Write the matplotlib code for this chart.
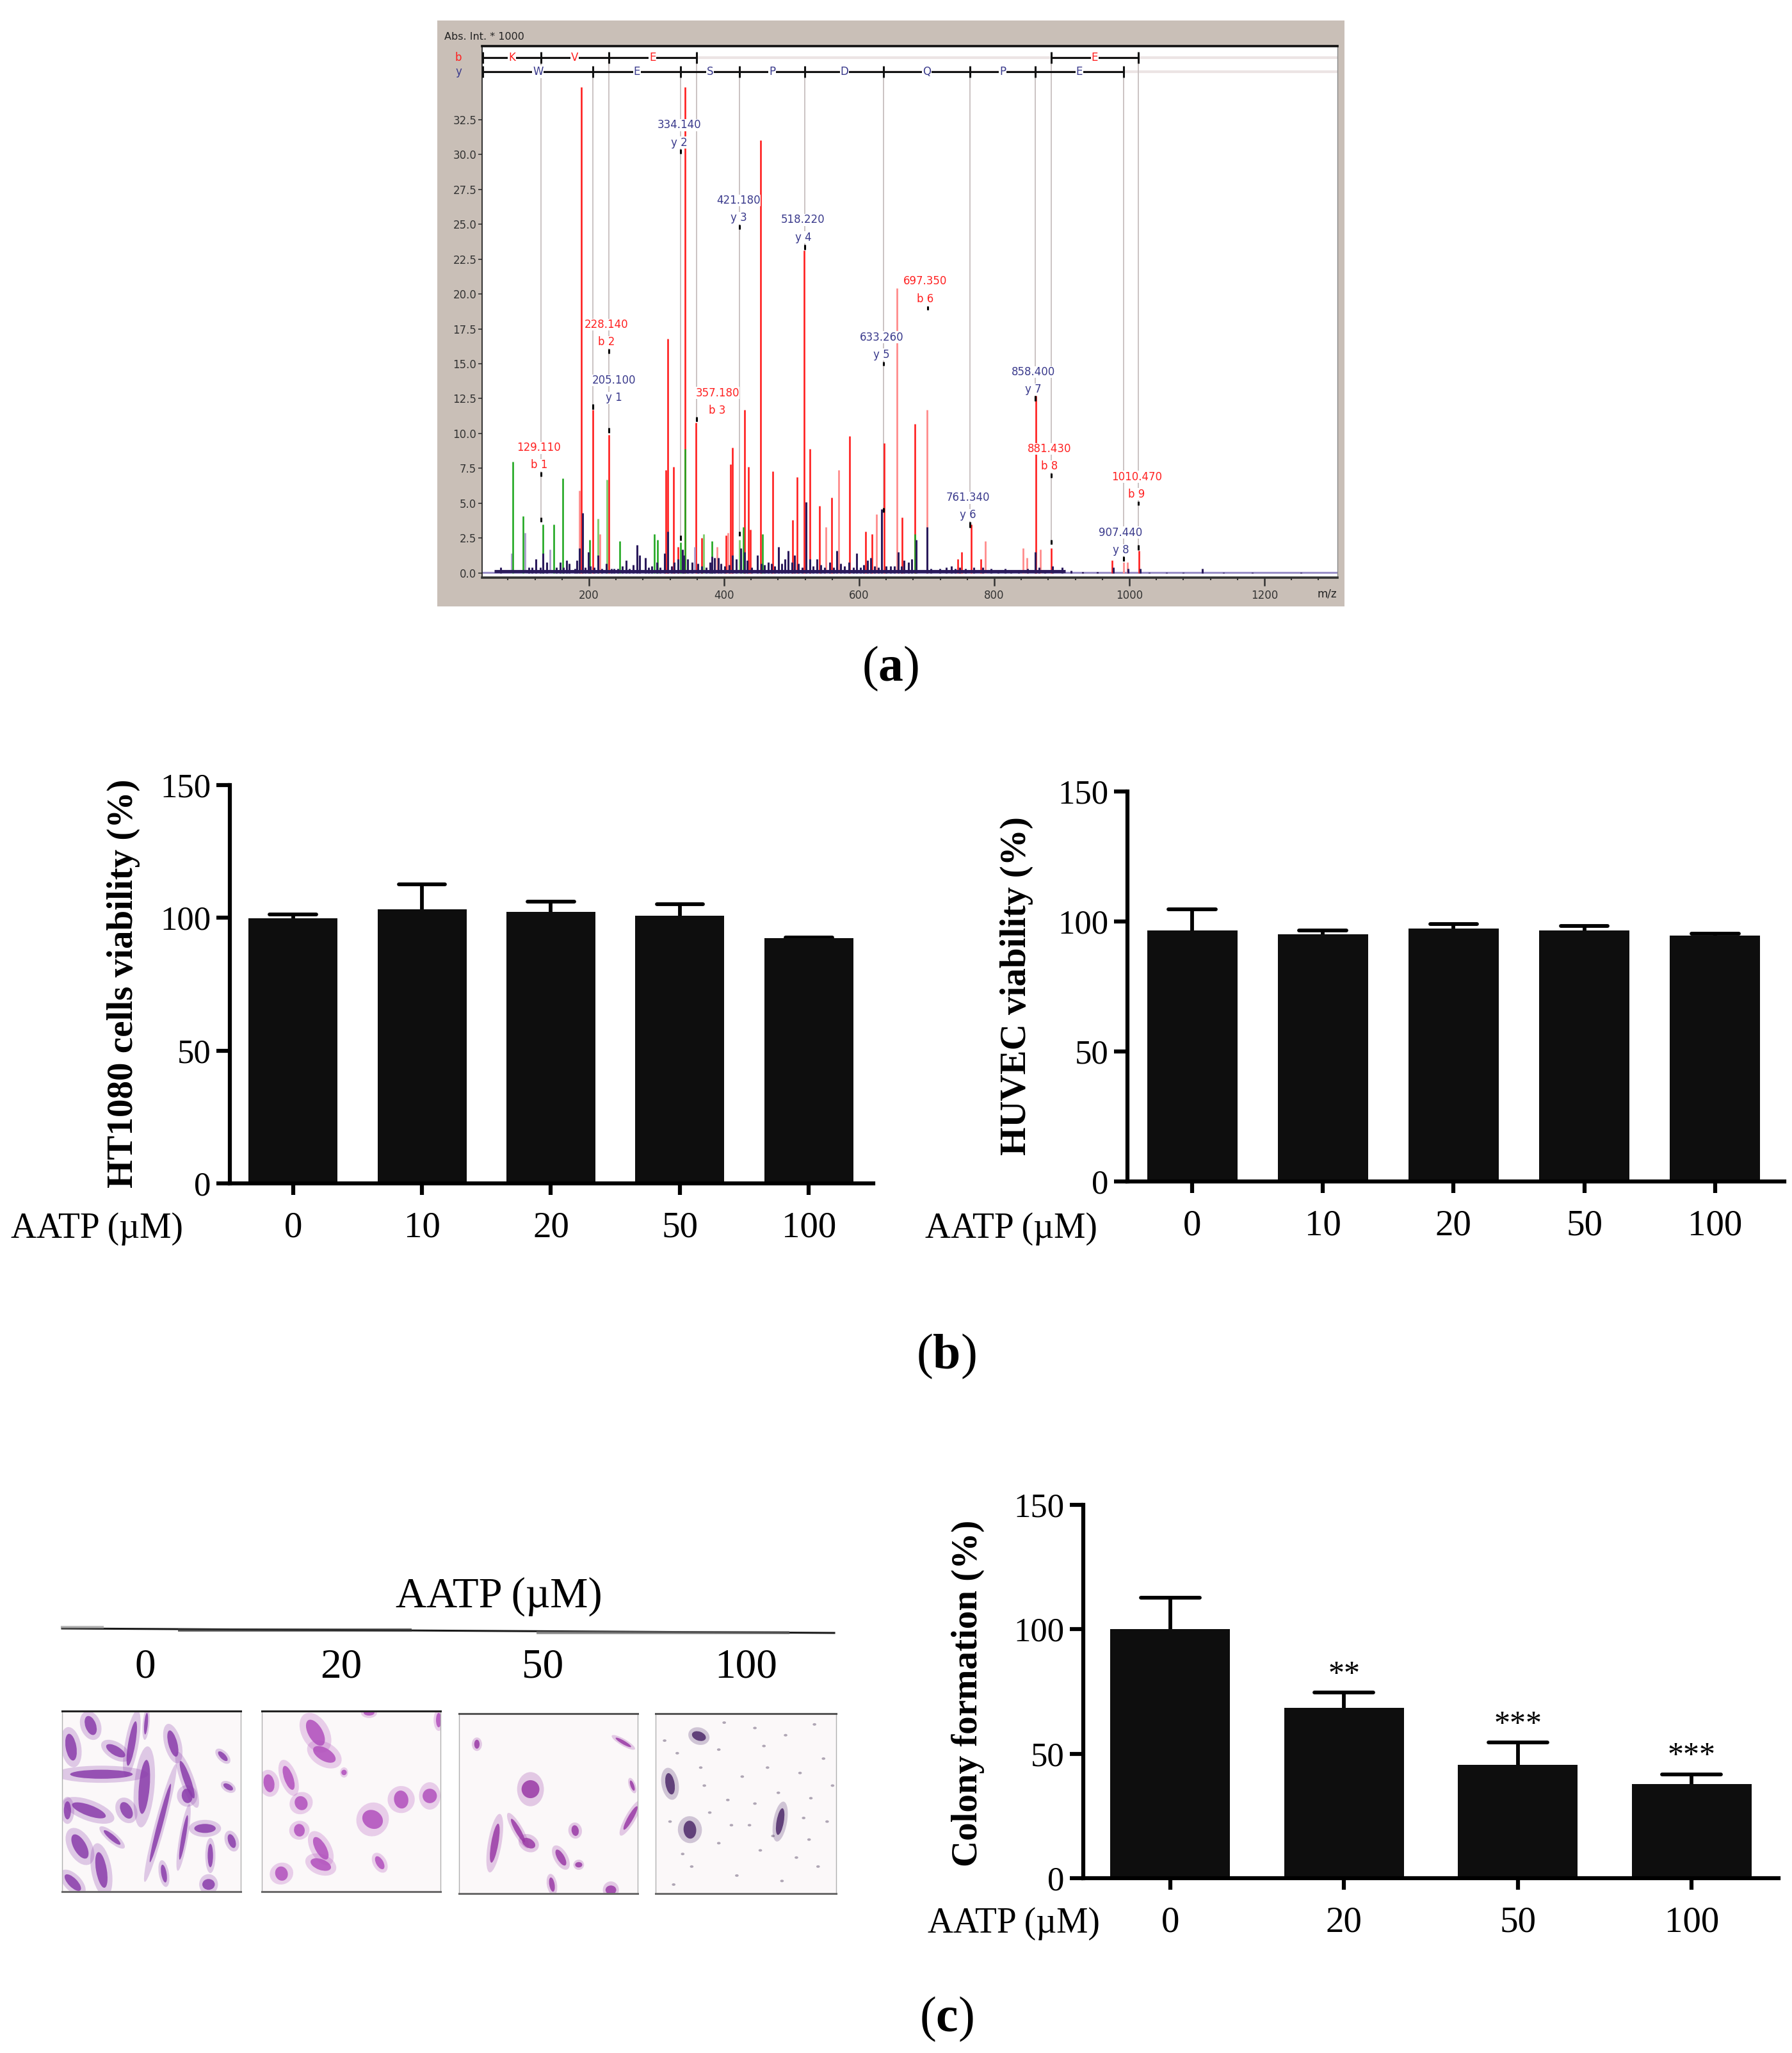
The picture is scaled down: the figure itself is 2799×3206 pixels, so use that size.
import numpy as np
import matplotlib
matplotlib.use('Agg')
import matplotlib.pyplot as plt
from matplotlib.patches import Ellipse, Rectangle
from matplotlib.ticker import MultipleLocator

W, H = 2799, 3206

# ---------------- panel (a): MS/MS spectrum ----------------
RED_MZ = [189, 206, 229.5, 314, 317, 325.3, 331.5, 342, 358, 366.4,
          402.6, 409.6, 412.5, 430, 436, 439, 454, 472, 501, 508,
          518.5, 527, 541, 559.6, 585.5, 609, 619, 637, 663.5, 682,
          746, 752, 766, 780, 862, 884, 974, 1014]
RED_INT = [34.8, 11.7, 9.9, 7.4, 16.8, 7.6, 1.9, 34.8, 10.8, 2.5,
           2.7, 7.8, 9.0, 11.7, 7.6, 3.1, 31.0, 7.3, 3.8, 6.9,
           23.1, 8.9, 4.8, 5.4, 9.8, 3.0, 2.8, 9.3, 4.0, 10.7,
           1.0, 1.5, 3.5, 1.0, 12.7, 1.8, 0.9, 1.6]
PINK_MZ = [185.6, 216.4, 390, 405.5, 550.5, 570, 626, 656, 700.5, 787,
           843, 848, 868, 991, 997.5]
PINK_INT = [5.9, 2.8, 1.9, 2.9, 3.3, 7.4, 4.2, 20.4, 11.7, 2.3,
            1.8, 1.1, 1.7, 0.8, 0.8]
GREEN_MZ = [87, 102.6, 131.3, 147.4, 161, 201, 245, 296.5, 301.5, 335.6,
            342, 382, 428, 457, 682]
GREEN_INT = [8.0, 4.1, 3.5, 3.5, 6.8, 2.4, 2.3, 2.8, 2.4, 2.2,
             8.9, 2.3, 3.3, 2.8, 2.8]
LGREEN_MZ = [213, 226.7, 370, 423]
LGREEN_INT = [3.9, 6.7, 2.8, 2.4]
LAV_MZ = [85, 105.5, 142, 356]
LAV_INT = [1.4, 2.9, 1.7, 1.9]
NAVY_MZ = [69, 111, 116, 121, 128, 132, 137, 152, 157, 162,
           167, 171, 179.4, 182, 185.6, 190.5, 194, 199, 202, 207.4,
           213.5, 219, 226, 233, 237, 242.3, 249, 255, 259.6, 265.3,
           271.5, 274.4, 283.4, 288.3, 292.4, 300, 305, 312, 317, 322,
           326, 331.5, 338, 340.5, 346, 353, 361.5, 367, 373, 379,
           382, 386, 391, 395, 401, 407.5, 412.5, 418, 425, 430,
           434, 441, 449, 455, 460, 465, 470, 475.3, 481, 485.6,
           490, 495, 500, 504, 510, 516, 521.4, 527, 532, 537,
           543, 549, 556, 562, 567, 572, 578, 585, 591, 596.6,
           601.5, 607, 612, 617, 623, 628.6, 633.6, 640, 646, 652,
           657.4, 662.3, 666.5, 673, 678, 684, 700.5, 706, 719, 729,
           736, 742, 748.5, 757, 770, 782.5, 795, 806, 816.5, 825,
           835.6, 849.6, 861, 866.6, 875, 886.6, 900.6, 914, 931, 952.5,
           976, 998, 1016, 1029, 1054.5, 1080, 1107.6, 1139.5, 1182, 1254]
NAVY_INT = [0.4, 0.4, 0.4, 1.0, 0.4, 1.4, 0.8, 0.4, 0.8, 0.4,
            0.9, 0.7, 0.3, 0.9, 1.8, 4.3, 0.4, 1.5, 0.5, 0.4,
            1.3, 0.3, 0.7, 0.3, 0.3, 0.3, 0.5, 0.9, 0.3, 0.6,
            2.0, 1.3, 1.1, 0.4, 0.5, 0.8, 0.4, 1.4, 3.0, 0.5,
            0.8, 1.0, 1.7, 1.3, 1.0, 0.8, 0.7, 0.5, 0.4, 0.8,
            1.2, 1.1, 1.1, 0.7, 0.5, 0.6, 1.3, 1.0, 1.8, 1.5,
            0.9, 0.4, 1.3, 0.7, 0.6, 0.8, 0.7, 0.5, 1.9, 0.7,
            1.0, 1.6, 0.8, 1.3, 0.7, 0.4, 5.1, 1.0, 0.5, 1.0,
            0.6, 0.4, 0.8, 0.4, 1.6, 0.7, 0.5, 0.8, 0.4, 1.4,
            0.4, 0.6, 0.9, 1.1, 0.5, 0.4, 4.6, 0.5, 0.5, 0.5,
            1.5, 0.5, 0.9, 0.8, 1.0, 2.4, 3.3, 0.3, 0.3, 0.4,
            0.5, 0.3, 0.4, 0.3, 0.4, 0.4, 0.3, 0.2, 0.3, 0.2,
            0.2, 0.3, 1.5, 0.4, 0.2, 0.5, 0.4, 0.2, 0.1, 0.1,
            0.4, 0.3, 0.3, 0.05, 0.05, 0.05, 0.3, 0.05, 0.05, 0.05]

# annotation lines (fragment positions)
ANN_LINE_MZ = [129, 206, 229, 335.4, 359.5, 423, 519.5, 636.4, 763.7, 861, 884, 991, 1013]
ANN_LINE_ROW = ['b', 'y', 'b', 'y', 'b', 'y', 'y', 'y', 'y', 'y', 'b', 'y', 'b']
ANN_LINE_END = [3.8, 11.9, 10.2, 2.5, 11.0, 2.8, 23.3, 4.5, 3.4, 12.5, 2.2, 1.0, 1.8]

LBL_MASS = ['129.110', '228.140', '205.100', '334.140', '357.180', '421.180', '518.220',
            '633.260', '697.350', '761.340', '858.400', '881.430', '907.440', '1010.470']
LBL_ION = ['b 1', 'b 2', 'y 1', 'y 2', 'b 3', 'y 3', 'y 4',
           'y 5', 'b 6', 'y 6', 'y 7', 'b 8', 'y 8', 'b 9']
LBL_X = [126, 226, 237, 333.7, 390, 421.4, 517, 633, 697.5, 761, 858, 881.5, 987, 1010.5]
LBL_Y = [8.98, 17.8, 13.8, 32.1, 12.9, 26.7, 25.3, 16.9, 20.9, 5.4, 14.4, 8.9, 2.9, 6.9]
LBL_TICK_MZ = [129, 229, 206, 335.4, 359.5, 423, 519.5, 636.4, 701, 763.7, 861, 884, 991, 1013]

B_BOUNDS = [[43, 129, 229, 359.5], [884, 1013]]
B_LETTERS = [['K', 'V', 'E'], ['E']]
Y_BOUNDS = [43, 206, 335.4, 423, 519.5, 636.4, 763.7, 861, 991]
Y_LETTERS = ['W', 'E', 'S', 'P', 'D', 'Q', 'P', 'E']

# ---------------- panel (b) and (c) bar data ----------------
CONC_B = ['0', '10', '20', '50', '100']
HT1080_MEAN = [99.8, 103.2, 102.3, 100.7, 92.3]
HT1080_ERR = [1.6, 9.4, 3.7, 4.4, 0.3]
HUVEC_MEAN = [96.6, 95.0, 97.4, 96.5, 94.6]
HUVEC_ERR = [8.0, 1.6, 1.6, 1.8, 0.8]
CONC_C = ['0', '20', '50', '100']
COLONY_MEAN = [100.1, 68.4, 45.6, 37.8]
COLONY_ERR = [12.5, 6.2, 8.9, 3.9]
COLONY_SIG = ['', '**', '***', '***']

# crystal violet images: (u, v, length, width, angle)
CELLS = [
    [(0.16, 0.08, 0.11, 0.06, 70), (0.39, 0.18, 0.25, 0.04, 100), (0.47, 0.07, 0.12, 0.02, 95),
     (0.05, 0.20, 0.15, 0.06, 80), (0.30, 0.22, 0.12, 0.05, 30), (0.22, 0.35, 0.35, 0.05, 0),
     (0.46, 0.42, 0.30, 0.06, 95), (0.62, 0.18, 0.15, 0.05, 75), (0.70, 0.38, 0.22, 0.04, 70),
     (0.70, 0.47, 0.08, 0.06, 80), (0.90, 0.25, 0.07, 0.03, 45), (0.15, 0.55, 0.20, 0.06, 20),
     (0.36, 0.55, 0.10, 0.06, 60), (0.55, 0.62, 0.45, 0.03, 105), (0.10, 0.75, 0.15, 0.07, 60),
     (0.22, 0.88, 0.20, 0.06, 80), (0.80, 0.65, 0.12, 0.05, 0), (0.83, 0.80, 0.13, 0.03, 90),
     (0.95, 0.72, 0.08, 0.04, 70), (0.57, 0.90, 0.10, 0.03, 80), (0.82, 0.96, 0.07, 0.06, 0),
     (0.06, 0.95, 0.12, 0.05, 45), (0.68, 0.70, 0.25, 0.025, 100), (0.93, 0.42, 0.06, 0.03, 30),
     (0.03, 0.55, 0.10, 0.04, 90), (0.28, 0.70, 0.12, 0.03, 40)],
    [(0.30, 0.12, 0.16, 0.08, 60), (0.35, 0.24, 0.14, 0.07, 30), (0.04, 0.40, 0.10, 0.06, 80),
     (0.15, 0.37, 0.14, 0.05, 70), (0.46, 0.34, 0.03, 0.03, 0), (0.22, 0.51, 0.08, 0.07, 60),
     (0.78, 0.49, 0.10, 0.08, 80), (0.94, 0.47, 0.08, 0.08, 0), (0.62, 0.60, 0.12, 0.10, 30),
     (0.21, 0.66, 0.07, 0.06, 80), (0.33, 0.76, 0.14, 0.06, 60), (0.33, 0.85, 0.12, 0.06, 20),
     (0.11, 0.90, 0.08, 0.07, 70), (0.66, 0.84, 0.08, 0.04, 60), (0.60, 0.01, 0.06, 0.03, 0),
     (0.99, 0.05, 0.08, 0.03, 90)],
    [(0.10, 0.17, 0.05, 0.03, 90), (0.92, 0.16, 0.10, 0.02, 30), (0.40, 0.42, 0.10, 0.10, 0),
     (0.20, 0.72, 0.22, 0.04, 100), (0.33, 0.65, 0.15, 0.03, 60), (0.39, 0.72, 0.08, 0.05, 30),
     (0.65, 0.65, 0.06, 0.04, 80), (0.57, 0.80, 0.10, 0.04, 60), (0.67, 0.84, 0.04, 0.03, 0),
     (0.96, 0.58, 0.15, 0.03, 120), (0.52, 0.95, 0.08, 0.03, 80), (0.85, 0.98, 0.06, 0.05, 0),
     (0.97, 0.40, 0.06, 0.02, 70)],
    [(0.24, 0.125, 0.08, 0.05, 20), (0.08, 0.39, 0.12, 0.05, 80), (0.19, 0.645, 0.10, 0.07, 85),
     (0.69, 0.60, 0.15, 0.04, 100)],
]
CELL_COLORS = ['#8a3cab', '#b150bd', '#9a3aa6', '#4e2a6a']
SPECKS = [(0.05, 0.15), (0.12, 0.22), (0.35, 0.20), (0.55, 0.08), (0.72, 0.12), (0.88, 0.06),
          (0.93, 0.25), (0.62, 0.30), (0.80, 0.33), (0.68, 0.44), (0.86, 0.47), (0.95, 0.60),
          (0.40, 0.48), (0.30, 0.55), (0.52, 0.62), (0.35, 0.72), (0.58, 0.76), (0.78, 0.80),
          (0.90, 0.85), (0.20, 0.85), (0.45, 0.90), (0.70, 0.93), (0.10, 0.95), (0.27, 0.40),
          (0.85, 0.70), (0.48, 0.35), (0.15, 0.78), (0.65, 0.68), (0.98, 0.40), (0.38, 0.05),
          (0.60, 0.18), (0.25, 0.30), (0.82, 0.58), (0.42, 0.62), (0.55, 0.50), (0.08, 0.60)]

plt.rcParams['font.family'] = ['Liberation Serif', 'DejaVu Serif']
plt.rcParams['mathtext.fontset'] = 'custom'
plt.rcParams['mathtext.rm'] = 'Liberation Serif'
plt.rcParams['mathtext.bf'] = 'Liberation Serif:bold'

fig = plt.figure(figsize=(W / 100, H / 100), dpi=100)
fig.patch.set_facecolor('white')


def px_axes(l, t, r, b, **kw):
    return fig.add_axes([l / W, 1 - b / H, (r - l) / W, (b - t) / H], **kw)


bg = fig.add_axes([0, 0, 1, 1], zorder=-5)
bg.set_xlim(0, W)
bg.set_ylim(H, 0)
bg.axis('off')

# ---------- (a) spectrum ----------
SANS = ['DejaVu Sans']
bg.add_patch(Rectangle((683, 32), 2100 - 683, 947 - 32, color='#c9bfb7', lw=0))
bg.text(694, 58, 'Abs. Int. * 1000', fontsize=11.5, family=SANS, color='#222', va='center')
bg.text(716, 90, 'b', fontsize=12, family=SANS, color='#ff2020', ha='center', va='center')
bg.text(716, 112, 'y', fontsize=12, family=SANS, color='#3a3a8c', ha='center', va='center')
bg.text(2073, 928, 'm/z', fontsize=12, family=SANS, color='#222', ha='center', va='center')

ms = px_axes(752.6, 71.7, 2089, 901.7)
ms.set_facecolor('white')
ms.set_xlim(41.3, 1308)
ms.set_ylim(-0.31, 37.77)
B_ROW, Y_ROW = 36.93, 35.92

# faint row guides
ms.hlines([B_ROW, Y_ROW], 41.3, 1308, color='#ece4e4', lw=3, zorder=0)
# annotation lines
for mz, row, end in zip(ANN_LINE_MZ, ANN_LINE_ROW, ANN_LINE_END):
    top = B_ROW if row == 'b' else Y_ROW
    ms.vlines(mz, end, top, color='#cbc3c3', lw=1.4, zorder=1)
    ms.vlines(mz, end - 0.15, end + 0.2, color='black', lw=2.2, zorder=4)

ms.axhline(0.04, color='#9a90c8', lw=2.2, zorder=1)
ms.vlines(PINK_MZ, 0, PINK_INT, color='#ff8c8c', lw=2.0, zorder=2)
ms.vlines(RED_MZ, 0, RED_INT, color='#ff1e1e', lw=1.9, zorder=2)
ms.vlines(LGREEN_MZ, 0, LGREEN_INT, color='#86cf74', lw=2.2, zorder=2)
ms.vlines(GREEN_MZ, 0, GREEN_INT, color='#22a822', lw=1.9, zorder=3)
ms.vlines(LAV_MZ, 0, LAV_INT, color='#a99ccc', lw=2.0, zorder=2)
ms.hlines(0.15, 60, 905, color='#2b1b5c', lw=3.5, zorder=3)
ms.vlines(NAVY_MZ, 0, NAVY_INT, color='#2b1b5c', lw=2.2, zorder=3)

# sequence rows
for bounds, letters in zip(B_BOUNDS, B_LETTERS):
    ms.hlines(B_ROW, bounds[0], bounds[-1], color='#111', lw=2.2, zorder=4)
    ms.vlines(bounds, B_ROW - 0.4, B_ROW + 0.4, color='#111', lw=2.2, zorder=4)
    for a, b2, let in zip(bounds[:-1], bounds[1:], letters):
        ms.text((a + b2) / 2, B_ROW, let, color='#ff2020', fontsize=12, family=SANS,
                ha='center', va='center', zorder=5,
                bbox=dict(fc='white', ec='none', pad=0.6))
ms.hlines(Y_ROW, Y_BOUNDS[0], Y_BOUNDS[-1], color='#111', lw=2.2, zorder=4)
ms.vlines(Y_BOUNDS, Y_ROW - 0.4, Y_ROW + 0.4, color='#111', lw=2.2, zorder=4)
for a, b2, let in zip(Y_BOUNDS[:-1], Y_BOUNDS[1:], Y_LETTERS):
    ms.text((a + b2) / 2, Y_ROW, let, color='#3a3a8c', fontsize=12, family=SANS,
            ha='center', va='center', zorder=5,
            bbox=dict(fc='white', ec='none', pad=0.6))

# peak labels
for mass, ion, lx, ly, tmz in zip(LBL_MASS, LBL_ION, LBL_X, LBL_Y, LBL_TICK_MZ):
    col = '#ff2020' if ion.startswith('b') else '#3a3a8c'
    ms.text(lx, ly, mass, color=col, fontsize=12, family=SANS, ha='center', va='center',
            zorder=6, bbox=dict(fc='white', ec='none', pad=0.3))
    ms.text(lx, ly - 1.25, ion, color=col, fontsize=12, family=SANS, ha='center', va='center',
            zorder=6, bbox=dict(fc='white', ec='none', pad=0.3))
    ms.vlines(tmz, ly - 2.05, ly - 1.75, color='black', lw=2.2, zorder=6)

ms.set_yticks(np.arange(0, 33, 2.5))
ms.set_yticklabels([f'{v:.1f}' for v in np.arange(0, 33, 2.5)])
ms.set_xticks([200, 400, 600, 800, 1000, 1200])
ms.xaxis.set_minor_locator(MultipleLocator(40))
ms.tick_params(axis='y', length=4, width=1.2, pad=2, labelsize=12, colors='#333')
ms.tick_params(axis='x', which='major', length=9, width=1.8, pad=5, labelsize=12, colors='#333')
ms.tick_params(axis='x', which='minor', length=3, width=1.5, colors='#333')
for lab in ms.get_xticklabels() + ms.get_yticklabels():
    lab.set_family(SANS)
ms.spines['top'].set_linewidth(2.6)
ms.spines['top'].set_color('#111')
ms.spines['left'].set_linewidth(1.3)
ms.spines['left'].set_color('#222')
ms.spines['bottom'].set_linewidth(2.6)
ms.spines['bottom'].set_color('#333')
ms.spines['right'].set_linewidth(1.0)
ms.spines['right'].set_color('#888')


# ---------- bar panels ----------
def bar_panel(rect, labels, means, errs, xlim, cap_half, ylabel, ylab_xy, aatp_xy,
              sig=None):
    ax = px_axes(*rect)
    x = np.arange(len(means))
    tops = np.array(means) + np.array(errs)
    ax.bar(x, means, width=0.69, color='#0e0e0e', zorder=2)
    # upper error bars only
    ax.vlines(x, means, tops, color='black', lw=4.2, zorder=1)
    ax.hlines(tops, x - cap_half, x + cap_half, color='black', lw=4.2, zorder=1,
              capstyle='round')
    if sig:
        for xi, t, s in zip(x, tops, sig):
            if s:
                ax.text(xi, t + 4, s, ha='center', va='baseline', fontsize=36)
    ax.set_xlim(*xlim)
    ax.set_ylim(0, 150)
    ax.set_yticks([0, 50, 100, 150])
    ax.set_xticks(x, labels)
    for s in ['top', 'right']:
        ax.spines[s].set_visible(False)
    for s in ['left', 'bottom']:
        ax.spines[s].set_linewidth(4.5)
    ax.tick_params(axis='y', length=15, width=4.5, pad=6, labelsize=38)
    ax.tick_params(axis='x', length=13, width=4.5, pad=18, labelsize=41)
    ax.patch.set_alpha(0)
    bg.text(ylab_xy[0], ylab_xy[1], ylabel, rotation=90, ha='center', va='center',
            fontsize=41, fontweight='bold')
    bg.text(aatp_xy[0], aatp_xy[1], 'AATP (\u00b5M)', ha='center', va='center', fontsize=40)
    return ax


bar_panel((359, 1226, 1364, 1848), CONC_B, HT1080_MEAN, HT1080_ERR, (-0.49, 4.5), 0.18,
          'HT1080 cells viability (%)', (193, 1536), (152, 1919))
bar_panel((1761, 1236, 2787, 1845), CONC_B, HUVEC_MEAN, HUVEC_ERR, (-0.495, 4.53), 0.18,
          'HUVEC viability (%)', (1588, 1540), (1580, 1919))
bar_panel((1692, 2350, 2778, 2933), CONC_C, COLONY_MEAN, COLONY_ERR, (-0.5, 3.5), 0.17,
          'Colony formation (%)', (1512, 2644), (1584, 3004), sig=COLONY_SIG)

# ---------- (c) left: colony images ----------
bg.text(779, 2493, 'AATP (\u00b5M)', ha='center', va='center', fontsize=48)
bg.plot([97, 1303], [2543, 2550], color='#1a1a1a', lw=2.2)
bg.plot([97, 160], [2541, 2541], color='#9a9a9a', lw=3, alpha=0.7)
bg.plot([280, 640], [2545, 2545], color='#333', lw=3.5, alpha=0.8)
bg.plot([840, 1230], [2549, 2549], color='#666', lw=3.5, alpha=0.7)
for xc, lab in zip([227, 533, 848, 1165], CONC_C):
    bg.text(xc, 2604, lab, ha='center', va='center', fontsize=47)

IMG_RECTS = [(97, 2672, 376, 2954), (409, 2672, 688, 2954),
             (717, 2676, 996, 2957), (1024, 2676, 1306, 2957)]
for k, (rect, cells, col) in enumerate(zip(IMG_RECTS, CELLS, CELL_COLORS)):
    im = px_axes(*rect)
    im.set_facecolor('#fbf8f9')
    im.set_xlim(0, 1)
    im.set_ylim(1, 0)
    im.set_xticks([])
    im.set_yticks([])
    im.spines['top'].set_color('#222' if k < 2 else '#555')
    im.spines['top'].set_linewidth(2.2)
    im.spines['bottom'].set_color('#6a6a6a')
    im.spines['bottom'].set_linewidth(2.2)
    for s in ['left', 'right']:
        im.spines[s].set_color('#b0b0b0')
        im.spines[s].set_linewidth(1.0)
    if k == 3:
        for u, v in SPECKS:
            im.add_patch(Ellipse((u, v), 0.02, 0.014, color='#7d7088', alpha=0.6, lw=0))
    for u, v, ln, wd, ang in cells:
        im.add_patch(Ellipse((u, v), ln * 1.5, wd * 1.9, angle=ang, color=col, alpha=0.25, lw=0))
        im.add_patch(Ellipse((u, v), ln, wd, angle=ang, color=col, alpha=0.85, lw=0))

# ---------- panel letters ----------
bg.text(1391, 1044, r'($\mathbf{a}$)', ha='center', va='center', fontsize=56)
bg.text(1478, 2118, r'($\mathbf{b}$)', ha='center', va='center', fontsize=56)
bg.text(1478, 3153, r'($\mathbf{c}$)', ha='center', va='center', fontsize=56)

fig.savefig('out.png', dpi=100)
